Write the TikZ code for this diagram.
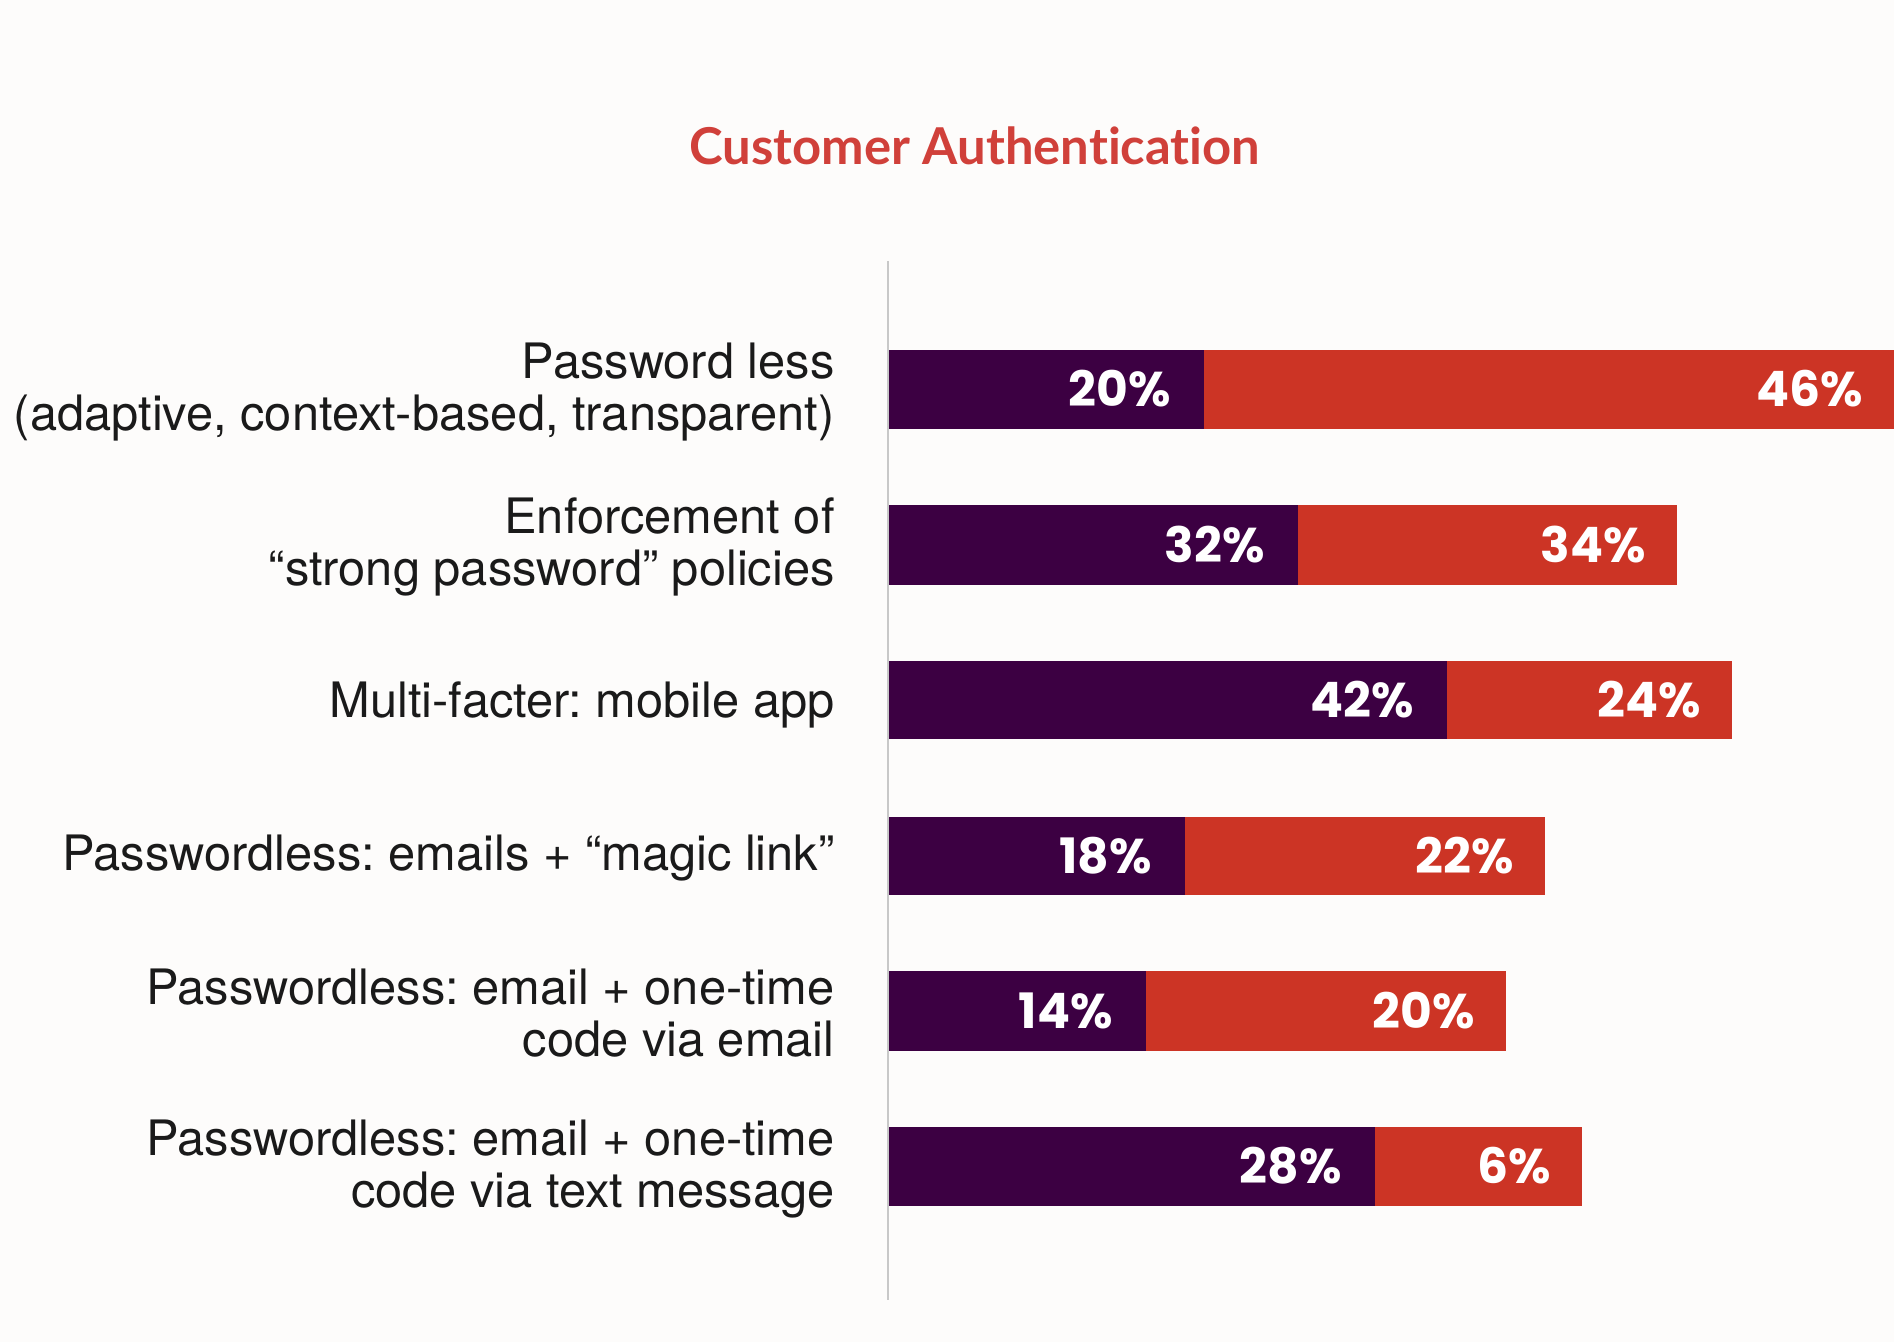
\documentclass[tikz,border=0pt]{standalone}
\usepackage{fontspec}
\setmainfont{TeX Gyre Heros}
\newfontfamily\pctfont{Poppins}
\newfontfamily\titlefont{Lato}[Ligatures=NoCommon]
\definecolor{bgcol}{HTML}{FDFCFB}
\definecolor{purp}{HTML}{3C0042}
\definecolor{redbar}{HTML}{CC3425}
\definecolor{titlered}{HTML}{D0403A}
\definecolor{axisgray}{HTML}{C8C8C8}
\definecolor{labelink}{HTML}{1A1A1A}
\begin{document}
\begin{tikzpicture}[x=0.5pt,y=-0.5pt,
  lbl/.style={anchor=east, align=right, inner sep=0pt, text=labelink,
    font=\frenchspacing\fontsize{24.4}{26}\selectfont},
  pct/.style={anchor=base east, inner sep=0pt, text=white,
    font=\pctfont\bfseries\fontsize{24.4}{28}\selectfont},
  ttl/.style={inner sep=0pt, text=titlered,
    font=\titlefont\bfseries\fontsize{25.4}{28}\selectfont}]
\fill[bgcol] (0,0) rectangle (1894,1342);
\useasboundingbox (0,0) rectangle (1894,1342);

\node[ttl] (title) at (975,146) {Customer Authentication};

% vertical axis
\draw[axisgray, line width=1pt] (888,261) -- (888,1300);

% bars: index / top / bottom / end of first segment / end of second / values
\foreach \i/\t/\b/\p/\r/\pl/\rl in {
  1/350/429/1204/1894/20/46,
  2/505/585/1298/1677/32/34,
  3/661/739/1447/1732/42/24,
  4/817/895/1185/1545/18/22,
  5/971/1051/1146/1506/14/20,
  6/1127/1206/1375/1582/28/6}{
  \fill[purp] (889,\t) rectangle (\p,\b);
  \fill[redbar] (\p,\t) rectangle (\r,\b);
  \node[pct] (pa\i) at ({\p-33},{(\t+\b)/2+17}) {\pl\%};
  \node[pct] (pb\i) at ({\r-31},{(\t+\b)/2+17}) {\rl\%};
}

% category labels
\node[lbl] (l1) at (835,392) {Password less\\(adaptive, context-based, transparent)};
\node[lbl] (l2) at (835,547) {Enforcement of\\“strong password” policies};
\node[lbl] (l3) at (835,705) {Multi-facter: mobile app};
\node[lbl] (l4) at (835,858) {Passwordless: emails + “magic link”};
\node[lbl] (l5) at (835,1013) {Passwordless: email + one-time\\code via email};
\node[lbl] (l6) at (835,1169) {Passwordless: email + one-time\\code via text message};
\end{tikzpicture}
\end{document}
